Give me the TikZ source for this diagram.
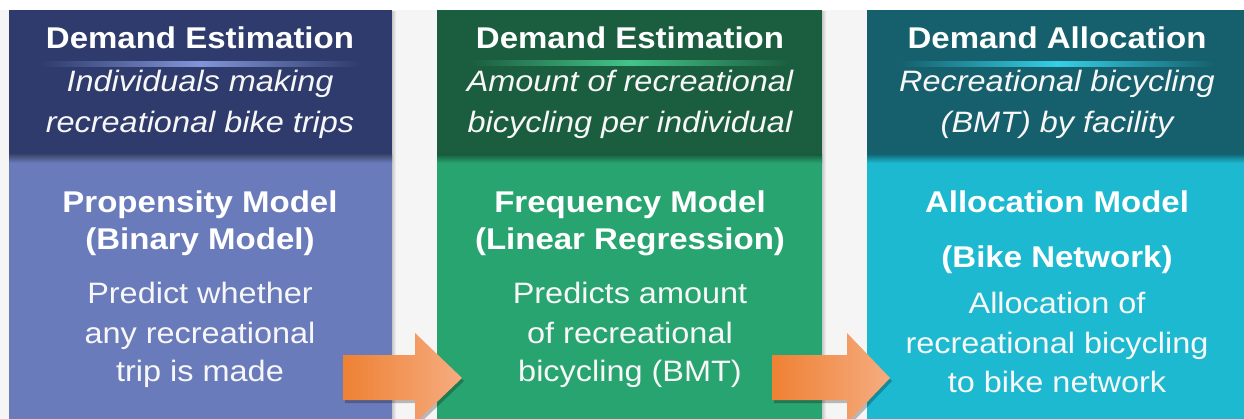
\documentclass[tikz,border=0pt]{standalone}
\usepackage{fontspec}
\setmainfont{Liberation Sans}[FakeStretch=1.1]
\definecolor{gapc}{HTML}{F5F5F5}
\definecolor{hdrA}{HTML}{2E3B6C}
\definecolor{bodA}{HTML}{6A7BBC}
\definecolor{glwA}{HTML}{8195D8}
\definecolor{hdrB}{HTML}{1B5D3F}
\definecolor{bodB}{HTML}{28A470}
\definecolor{glwB}{HTML}{43C48A}
\definecolor{hdrC}{HTML}{15606C}
\definecolor{bodC}{HTML}{1DB9D1}
\definecolor{glwC}{HTML}{35CFE6}
\definecolor{arrL}{HTML}{EE8134}
\definecolor{arrR}{HTML}{F6AC80}
\definecolor{txt}{HTML}{F7F7F7}
\tikzset{
  ttl/.style={text=white,font=\fontsize{30}{36}\selectfont\bfseries,anchor=base,inner sep=0pt},
  sub/.style={text=txt,font=\fontsize{29.5}{36}\selectfont\itshape,anchor=base,inner sep=0pt},
  mdl/.style={text=white,font=\fontsize{30}{36}\selectfont\bfseries,anchor=base,inner sep=0pt},
  dsc/.style={text=txt,font=\fontsize{29.5}{36}\selectfont,anchor=base,inner sep=0pt},
}
\begin{document}
\begin{tikzpicture}[x=1pt,y=-1pt]
\useasboundingbox (0,0) rectangle (1244,419);
\fill[white] (0,0) rectangle (1244,419);
\fill[gapc] (0,10) rectangle (1244,419);
% column shadows
\shade[left color=black!22,right color=gapc] (392,12) rectangle (396,419);
\shade[left color=black!22,right color=gapc] (822,12) rectangle (826,419);
% column A
\fill[hdrA] (9,10) rectangle (392,155);
\fill[bodA] (9,155) rectangle (392,419);
\shade[top color=bodA!60!black,bottom color=bodA] (9,155) rectangle (392,163);
\shade[left color=hdrA,right color=hdrA,middle color=glwA] (40,62) rectangle (360,67);
% column B
\fill[hdrB] (437,10) rectangle (822,155);
\fill[bodB] (437,155) rectangle (822,419);
\shade[top color=bodB!60!black,bottom color=bodB] (437,155) rectangle (822,163);
\shade[left color=hdrB,right color=hdrB,middle color=glwB] (470,61) rectangle (790,66);
% column C
\fill[hdrC] (867,10) rectangle (1244,155);
\fill[bodC] (867,155) rectangle (1244,419);
\shade[top color=bodC!60!black,bottom color=bodC] (867,155) rectangle (1244,163);
\shade[left color=hdrC,right color=hdrC,middle color=glwC] (900,62) rectangle (1215,67);
% texts A
\node[ttl] (a1) at (200,49) {Demand Estimation};
\node[sub] (a2) at (200,92) {Individuals making};
\node[sub] (a3) at (200,133) {recreational bike trips};
\node[mdl] (a4) at (200,213) {Propensity Model};
\node[mdl] (a5) at (200,250) {(Binary Model)};
\node[dsc] (a6) at (200,304) {Predict whether};
\node[dsc] (a7) at (200,343) {any recreational};
\node[dsc] (a8) at (200,381) {trip is made};
% texts B
\node[ttl] (b1) at (630,49) {Demand Estimation};
\node[sub] (b2) at (630,92) {Amount of recreational};
\node[sub] (b3) at (630,133) {bicycling per individual};
\node[mdl] (b4) at (630,213) {Frequency Model};
\node[mdl] (b5) at (630,250) {(Linear Regression)};
\node[dsc] (b6) at (630,304) {Predicts amount};
\node[dsc] (b7) at (630,343) {of recreational};
\node[dsc] (b8) at (630,381) {bicycling (BMT)};
% texts C
\node[ttl] (c1) at (1057,49) {Demand Allocation};
\node[sub] (c2) at (1057,92) {Recreational bicycling};
\node[sub] (c3) at (1057,133) {(BMT) by facility};
\node[mdl] (c4) at (1057,213) {Allocation Model};
\node[mdl] (c5) at (1057,268) {(Bike Network)};
\node[dsc] (c6) at (1057,314) {Allocation of};
\node[dsc] (c7) at (1057,353) {recreational bicycling};
\node[dsc] (c8) at (1057,392) {to bike network};
% arrows
\fill[black,opacity=0.25] (345,358) -- (417,358) -- (417,336) -- (464,381) -- (417,426) -- (417,403) -- (345,403) -- cycle;
\shade[left color=arrL,right color=arrR] (343,355) -- (415,355) -- (415,333) -- (462,378) -- (415,423) -- (415,400) -- (343,400) -- cycle;
\fill[black,opacity=0.25] (774,358) -- (849,358) -- (849,336) -- (892,381) -- (849,426) -- (849,403) -- (774,403) -- cycle;
\shade[left color=arrL,right color=arrR] (772,355) -- (847,355) -- (847,333) -- (890,378) -- (847,423) -- (847,400) -- (772,400) -- cycle;
\end{tikzpicture}
\end{document}
